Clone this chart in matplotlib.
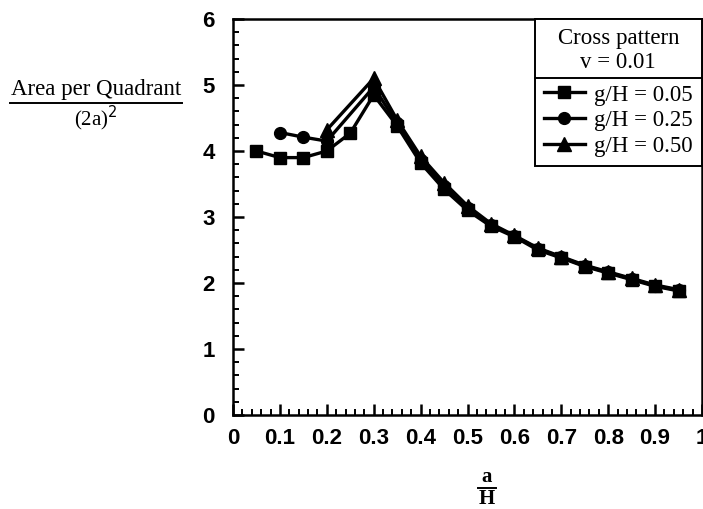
import matplotlib
matplotlib.use("Agg")
import matplotlib.pyplot as plt
from matplotlib.lines import Line2D
from matplotlib.ticker import MultipleLocator, FixedLocator
import numpy as np

# ---- data ----
x_sq = [0.05, 0.10, 0.15, 0.20, 0.25, 0.30, 0.35, 0.40, 0.45, 0.50,
        0.55, 0.60, 0.65, 0.70, 0.75, 0.80, 0.85, 0.90, 0.95]
y_sq = [4.00, 3.90, 3.90, 4.00, 4.27, 4.85, 4.38, 3.82, 3.42, 3.10,
        2.86, 2.70, 2.50, 2.38, 2.25, 2.15, 2.05, 1.95, 1.88]

x_ci = [0.10, 0.15, 0.20, 0.30, 0.35, 0.40, 0.45, 0.50,
        0.55, 0.60, 0.65, 0.70, 0.75, 0.80, 0.85, 0.90, 0.95]
y_ci = [4.28, 4.21, 4.15, 4.97, 4.42, 3.87, 3.47, 3.13,
        2.88, 2.71, 2.52, 2.39, 2.26, 2.16, 2.06, 1.96, 1.89]

x_tr = [0.20, 0.30, 0.35, 0.40, 0.45, 0.50,
        0.55, 0.60, 0.65, 0.70, 0.75, 0.80, 0.85, 0.90, 0.95]
y_tr = [4.32, 5.10, 4.47, 3.92, 3.52, 3.17,
        2.90, 2.72, 2.53, 2.40, 2.27, 2.17, 2.07, 1.97, 1.90]

labels = ["g/H = 0.05", "g/H = 0.25", "g/H = 0.50"]
xticks = [0, 0.1, 0.2, 0.3, 0.4, 0.5, 0.6, 0.7, 0.8, 0.9, 1]
xticklabels = ["0", "0.1", "0.2", "0.3", "0.4", "0.5", "0.6", "0.7", "0.8", "0.9", "1"]
yticks = [0, 1, 2, 3, 4, 5, 6]

W, H = 703, 509
fig = plt.figure(figsize=(W / 100, H / 100), dpi=100)
ax = fig.add_axes([233 / W, 1 - 415 / H, 469 / W, 396 / H])

lw = 2.4
ms = 8.5
l_tr, = ax.plot(x_tr, y_tr, color="black", lw=lw, marker="^", ms=ms + 1, clip_on=False)
l_ci, = ax.plot(x_ci, y_ci, color="black", lw=lw, marker="o", ms=ms, clip_on=False)
l_sq, = ax.plot(x_sq, y_sq, color="black", lw=lw, marker="s", ms=ms, clip_on=False)

ax.set_xlim(0, 1)
ax.set_ylim(0, 6)
ax.xaxis.set_major_locator(FixedLocator(xticks))
ax.set_xticklabels(xticklabels)
ax.yaxis.set_major_locator(FixedLocator(yticks))
ax.xaxis.set_minor_locator(MultipleLocator(0.02))
ax.yaxis.set_minor_locator(MultipleLocator(0.2))

for s in ax.spines.values():
    s.set_linewidth(1.8)

ax.tick_params(which="major", direction="in", length=8, width=1.8,
               top=False, right=False)
ax.tick_params(which="minor", direction="in", length=4.5, width=1.4,
               top=False, right=False)
ax.tick_params(axis="x", which="major", pad=9)
ax.tick_params(axis="y", which="major", pad=13)
for t in ax.get_xticklabels() + ax.get_yticklabels():
    t.set_fontfamily("Liberation Sans")
    t.set_fontweight("bold")
    t.set_fontsize(16)

# legend
serif = "Liberation Serif"
leg = ax.legend([l_sq, l_ci, l_tr], labels, loc="upper right",
                bbox_to_anchor=(1.0, 1.0), borderaxespad=0.0,
                frameon=True, fancybox=False, framealpha=1,
                edgecolor="black", title="Cross pattern\nv = 0.01",
                prop={"family": serif, "size": 16.5},
                title_fontproperties={"family": serif, "size": 16.5},
                handlelength=1.8, handletextpad=0.4, labelspacing=0.2,
                borderpad=0.4, alignment="center")
leg.get_title().set_multialignment("center")
leg.get_frame().set_linewidth(1.4)
leg._legend_box.sep = 8

fig.canvas.draw()
r = fig.canvas.get_renderer()
fb = leg.get_frame().get_window_extent(r)
tb = leg.get_title().get_window_extent(r)
ysep = tb.y0 - 5
inv = fig.transFigure.inverted()
(x0f, yf), (x1f, _) = inv.transform([(fb.x0, ysep), (fb.x1, ysep)])
fig.add_artist(Line2D([x0f, x1f], [yf, yf], color="black", lw=1.4))

# y label (fraction)
fig.text(96 / W, 1 - 89 / H, "Area per Quadrant", ha="center", va="center",
         fontsize=16.5, family=serif)
fig.add_artist(Line2D([10 / W, 182 / W], [1 - 103 / H, 1 - 103 / H],
                      color="black", lw=1.4))
fig.text(96 / W, 1 - 118 / H, "(2a)$^2$", ha="center", va="center",
         fontsize=15, family=serif)

# x label (fraction)
fig.text(487 / W, 1 - 477 / H, "a", ha="center", va="center",
         fontsize=15, family=serif, fontweight="bold")
fig.add_artist(Line2D([478 / W, 496 / W], [1 - 488 / H, 1 - 488 / H],
                      color="black", lw=1.4))
fig.text(487 / W, 1 - 499 / H, "H", ha="center", va="center",
         fontsize=15, family=serif, fontweight="bold")

fig.savefig("out.png", dpi=100)
